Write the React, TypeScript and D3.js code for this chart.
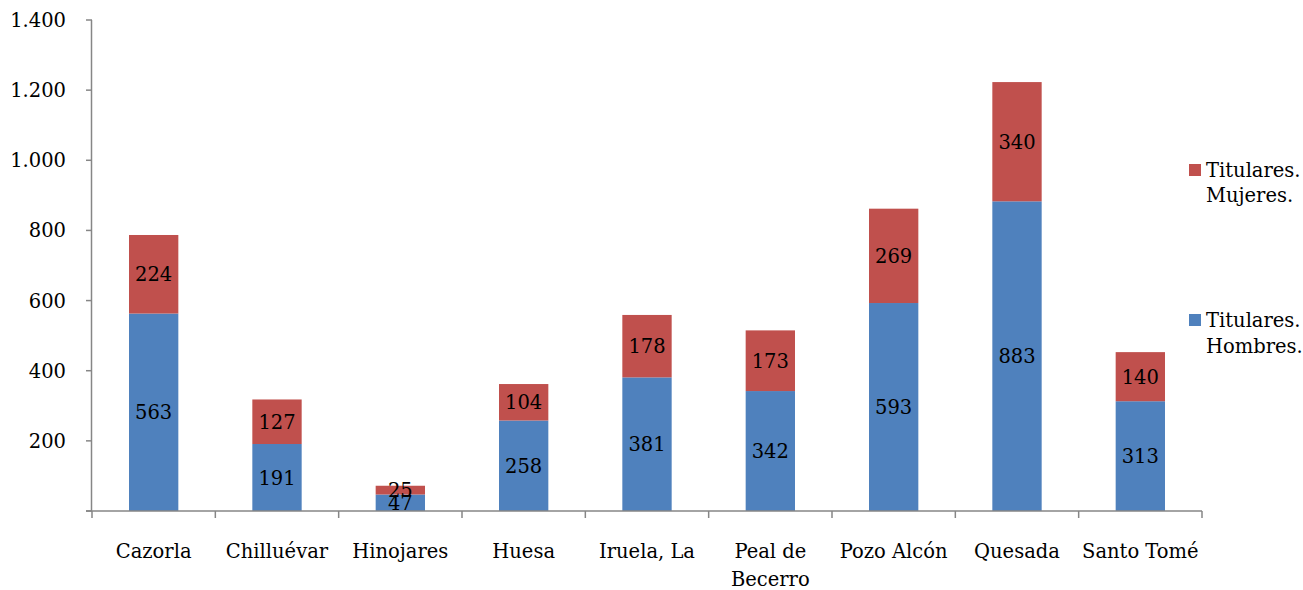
import React from 'react';
import * as d3 from 'd3';

// data
const municipios = ['Cazorla', 'Chilluévar', 'Hinojares', 'Huesa', 'Iruela, La', 'Peal de\nBecerro', 'Pozo Alcón', 'Quesada', 'Santo Tomé'];
const hombres = [563, 191, 47, 258, 381, 342, 593, 883, 313];
const mujeres = [224, 127, 25, 104, 178, 173, 269, 340, 140];
const yTicks = [200, 400, 600, 800, 1000, 1200, 1400];

const BLUE = '#4F81BD';
const RED = '#C0504D';
const AXIS = '#868686';
const FONT = '"DejaVu Serif", serif';
const FS = 19.5;

export default function App() {
  const width = 1303;
  const height = 590;
  const x0 = 92, x1 = 1202, yTop = 20, yBottom = 511;

  const x = d3.scaleBand<number>().domain(d3.range(municipios.length)).range([x0, x1]).padding(0);
  const y = d3.scaleLinear().domain([0, 1400]).range([yBottom, yTop]);
  const barW = x.bandwidth() * 0.4;
  const fmt = (v: number) => d3.format(',')(v).replace(/,/g, '.');

  return (
    <svg width={width} height={height} style={{ position: 'absolute', left: 0, top: 0, fontFamily: FONT }}>
      <rect width={width} height={height} fill="#fff" />
      {municipios.map((m, i) => {
        const cx = x(i)! + x.bandwidth() / 2;
        const h = hombres[i];
        const mu = mujeres[i];
        return (
          <g key={m}>
            <rect x={cx - barW / 2} y={y(h)} width={barW} height={y(0) - y(h)} fill={BLUE} />
            <rect x={cx - barW / 2} y={y(h + mu)} width={barW} height={y(h) - y(h + mu)} fill={RED} />
            <text x={cx} y={(y(0) + y(h)) / 2 + 7} textAnchor="middle" fontSize={FS} fill="#000">{h}</text>
            <text x={cx} y={(y(h) + y(h + mu)) / 2 + 7} textAnchor="middle" fontSize={FS} fill="#000">{mu}</text>
          </g>
        );
      })}
      {/* y axis */}
      <line x1={x0 - 0.5} x2={x0 - 0.5} y1={yTop} y2={yBottom} stroke={AXIS} strokeWidth={1.5} />
      {[0, ...yTicks].map((t) => (
        <line key={t} x1={x0 - 6} x2={x0} y1={y(t)} y2={y(t)} stroke={AXIS} strokeWidth={1.5} />
      ))}
      {yTicks.map((t) => (
        <text key={t} x={66} y={y(t) + 7} textAnchor="end" fontSize={FS} fill="#000">{fmt(t)}</text>
      ))}
      {/* x axis */}
      <line x1={x0 - 6} x2={x1} y1={yBottom} y2={yBottom} stroke={AXIS} strokeWidth={1.5} />
      {d3.range(municipios.length + 1).map((i) => {
        const tx = x0 + i * x.step();
        return <line key={i} x1={tx} x2={tx} y1={yBottom} y2={yBottom + 7} stroke={AXIS} strokeWidth={1.5} />;
      })}
      {municipios.map((m, i) => {
        const cx = x(i)! + x.bandwidth() / 2;
        return (
          <text key={m} x={cx} y={558} textAnchor="middle" fontSize={FS} fill="#000">
            {m.split('\n').map((line, k) => (
              <tspan key={k} x={cx} dy={k === 0 ? 0 : 28}>{line}</tspan>
            ))}
          </text>
        );
      })}
      {/* legend */}
      <rect x={1189} y={164} width={12} height={12} fill={RED} />
      <text x={1206} y={177} fontSize={FS} fill="#000">Titulares.</text>
      <text x={1206} y={202} fontSize={FS} fill="#000">Mujeres.</text>
      <rect x={1189} y={314} width={12} height={12} fill={BLUE} />
      <text x={1206} y={327} fontSize={FS} fill="#000">Titulares.</text>
      <text x={1206} y={353} fontSize={FS} fill="#000">Hombres.</text>
    </svg>
  );
}
